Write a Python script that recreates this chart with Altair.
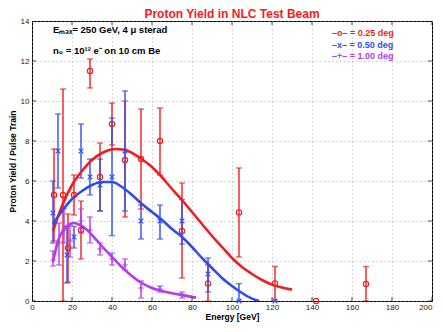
import altair as alt
import pandas as pd

# ---------------- data ----------------
x_ticks = [0, 20, 40, 60, 80, 100, 120, 140, 160, 180, 200]
y_ticks = [0, 2, 4, 6, 8, 10, 12, 14]

series_names = ["0.25 deg", "0.50 deg", "1.00 deg"]
series_colors = ["#f41c1c", "#2f4cf2", "#b33cf0"]

# 0.25 deg (red, circles)
red_E = [11, 15.5, 18, 21, 24.5, 29, 34, 40, 46.5, 54.5, 64, 75, 88, 103.5, 121.5, 142, 167]
red_y = [5.3, 5.3, 2.65, 5.3, 3.55, 11.5, 6.2, 8.85, 7.05, 7.1, 8.0, 3.5, 0.88, 4.43, 0.88, 0.0, 0.85]
red_lo = [3.0, 0.0, 0.95, 4.3, 2.1, 10.65, 4.5, 7.8, 4.2, 4.6, 6.3, 1.15, 0.0, 2.2, 0.0, 0.0, 0.0]
red_hi = [7.6, 10.6, 4.35, 6.3, 5.0, 12.1, 7.9, 9.9, 10.0, 9.6, 9.65, 5.9, 1.8, 6.65, 1.73, 0.0, 1.72]

# 0.50 deg (blue, x)
blue_E = [10.5, 13, 17.5, 21, 24.5, 29, 34, 40, 46.5, 54.5, 64, 75, 88, 103.5, 121.5]
blue_y = [4.4, 7.5, 2.3, 3.2, 7.5, 6.2, 5.8, 6.2, 7.5, 4.0, 4.0, 4.0, 1.35, 0.0, 0.0]
blue_lo = [2.9, 5.65, 0.9, 2.65, 6.15, 5.3, 4.5, 3.27, 4.5, 3.1, 3.1, 2.85, 0.45, 0.0, 0.0]
blue_hi = [6.0, 9.35, 3.73, 3.73, 8.85, 7.1, 7.1, 9.15, 10.5, 4.8, 4.8, 5.07, 2.15, 0.87, 0.0]

# 1.00 deg (purple, +)
pur_E = [10.5, 13.5, 16, 19, 24.5, 29, 34, 40, 46.5, 54.5, 64, 75]
pur_y = [2.05, 2.95, 3.55, 3.0, 4.0, 3.55, 2.6, 2.1, 1.8, 0.65, 0.6, 0.3]
pur_lo = [1.75, 1.8, 2.9, 2.2, 3.4, 2.9, 2.3, 1.8, 1.55, 0.15, 0.45, 0.15]
pur_hi = [2.5, 3.9, 4.6, 3.8, 4.6, 4.2, 2.9, 2.4, 2.1, 1.0, 0.75, 0.45]

# fitted curves
red_fit_E = [10.5, 15, 20, 25, 30, 35, 42, 48, 54, 60, 64, 70, 75, 80, 85, 90, 95, 100, 105, 110, 115, 120, 125, 130]
red_fit_y = [3.5, 4.75, 5.8, 6.5, 7.05, 7.4, 7.6, 7.5, 7.15, 6.7, 6.3, 5.6, 5.05, 4.45, 3.85, 3.25, 2.7, 2.15, 1.7, 1.35, 1.05, 0.82, 0.67, 0.57]
blue_fit_E = [10.5, 15, 20, 25, 30, 35, 40, 45, 50, 55, 60, 65, 70, 75, 80, 85, 90, 95, 100, 105, 110, 113.5]
blue_fit_y = [3.85, 4.5, 5.1, 5.5, 5.8, 5.95, 5.95, 5.7, 5.3, 4.85, 4.45, 4.05, 3.6, 3.2, 2.7, 2.15, 1.65, 1.15, 0.75, 0.4, 0.12, 0.0]
pur_fit_E = [10.5, 13, 16, 19, 21, 24, 27, 30, 34, 40, 47, 54, 60, 66, 74, 82]
pur_fit_y = [1.95, 3.0, 3.6, 3.85, 3.9, 3.8, 3.6, 3.3, 2.85, 2.2, 1.5, 0.95, 0.65, 0.47, 0.32, 0.17]

# ---------------- tables ----------------
def pts(name, E, y, lo, hi):
    return pd.DataFrame({"E": E, "y": y, "lo": lo, "hi": hi, "s": name})

pts_df = pd.concat([
    pts(series_names[0], red_E, red_y, red_lo, red_hi),
    pts(series_names[1], blue_E, blue_y, blue_lo, blue_hi),
    pts(series_names[2], pur_E, pur_y, pur_lo, pur_hi),
], ignore_index=True)
bars_df = pts_df[pts_df["hi"] > pts_df["lo"]]
caps_df = pd.concat([
    bars_df[["E", "s"]].assign(v=bars_df["lo"]),
    bars_df[["E", "s"]].assign(v=bars_df["hi"]),
], ignore_index=True)

fit_df = pd.concat([
    pd.DataFrame({"E": red_fit_E, "y": red_fit_y, "s": series_names[0]}),
    pd.DataFrame({"E": blue_fit_E, "y": blue_fit_y, "s": series_names[1]}),
    pd.DataFrame({"E": pur_fit_E, "y": pur_fit_y, "s": series_names[2]}),
], ignore_index=True)

FONT = "Liberation Sans"
xs = alt.Scale(domain=[0, 200], nice=False, zero=False)
ys = alt.Scale(domain=[0, 14], nice=False, zero=False)
cs = alt.Color("s:N", scale=alt.Scale(domain=series_names, range=series_colors), legend=None)

x_axis = alt.Axis(values=x_ticks, title="Energy [GeV]", grid=True, labelOverlap=False,
                  labelBound=False, labelFlush=False, tickCount=11,
                  labelAlign=alt.condition("datum.value >= 200", alt.value("right"), alt.value("center")))
y_axis = alt.Axis(values=y_ticks, title="Proton Yield / Pulse Train", grid=True, labelOverlap=False,
                  labelBound=False, labelFlush=False, tickCount=8)

base_x = alt.X("E:Q", scale=xs, axis=x_axis)

bars = alt.Chart(bars_df).mark_rule(clip=True, strokeWidth=1.4).encode(
    x=base_x, y=alt.Y("lo:Q", scale=ys, axis=y_axis), y2="hi:Q", color=cs)
caps = alt.Chart(caps_df).mark_tick(clip=True, orient="horizontal", size=6, thickness=1.4).encode(
    x=alt.X("E:Q", scale=xs), y=alt.Y("v:Q", scale=ys), color=cs)
fits = alt.Chart(fit_df).mark_line(interpolate="monotone", strokeWidth=2.6, clip=True).encode(
    x=alt.X("E:Q", scale=xs), y=alt.Y("y:Q", scale=ys), color=cs, detail="s:N")

def marker(name, shape, size, sw):
    return alt.Chart(pts_df[pts_df["s"] == name]).mark_point(
        shape=shape, size=size, strokeWidth=sw, filled=False, opacity=1, clip=False).encode(
        x=alt.X("E:Q", scale=xs), y=alt.Y("y:Q", scale=ys), color=cs)

m_red = marker(series_names[0], "circle", 28, 1.1)
m_blue = marker(series_names[1], "M-1,-1L1,1M-1,1L1,-1", 22, 1.2)
m_pur = marker(series_names[2], "M-1,0L1,0M0,-1L0,1", 30, 1.2)

# inward ticks on the box (MATLAB style)
xt = pd.DataFrame({"t": x_ticks})
yt = pd.DataFrame({"t": y_ticks})
tick_b = alt.Chart(xt).mark_tick(clip=True, orient="vertical", size=8, thickness=1, color="black").encode(
    x=alt.X("t:Q", scale=xs), y=alt.datum(0, scale=ys))
tick_t = alt.Chart(xt).mark_tick(clip=True, orient="vertical", size=8, thickness=1, color="black").encode(
    x=alt.X("t:Q", scale=xs), y=alt.datum(14, scale=ys))
tick_l = alt.Chart(yt).mark_tick(clip=True, orient="horizontal", size=8, thickness=1, color="black").encode(
    y=alt.Y("t:Q", scale=ys), x=alt.datum(0, scale=xs))
tick_r = alt.Chart(yt).mark_tick(clip=True, orient="horizontal", size=8, thickness=1, color="black").encode(
    y=alt.Y("t:Q", scale=ys), x=alt.datum(200, scale=xs))

def label(text, x, y, color="black", size=9.5, align="left"):
    return alt.Chart(pd.DataFrame({"t": [text]})).mark_text(
        font=FONT, fontWeight="bold", fontSize=size, color=color, align=align, baseline="alphabetic"
    ).encode(x=alt.value(x), y=alt.value(y), text="t:N")

title = label("Proton Yield in NLC Test Beam", 200, -3, color="#f41c1c", size=12, align="center")
ann1 = label("E\u2098\u2090\u2093= 250 GeV, 4 \u03bc sterad", 21, 12)
ann2 = label("n\u2080 = 10\u00b9\u00b2 e\u207b on 10 cm Be", 21, 33)
leg1 = label("\u2013o\u2013 = 0.25 deg", 300, 15, color=series_colors[0], size=9)
leg2 = label("\u2013x\u2013 = 0.50 deg", 300, 26.5, color=series_colors[1], size=9)
leg3 = label("\u2013+\u2013 = 1.00 deg", 300, 38, color=series_colors[2], size=9)

chart = alt.layer(
    bars, caps, fits, m_red, m_blue, m_pur,
    tick_b, tick_t, tick_l, tick_r,
    title, ann1, ann2, leg1, leg2, leg3,
).properties(
    width=400, height=280,
    autosize=alt.AutoSizeParams(type="none"),
    padding={"left": 24, "top": 13, "right": 3, "bottom": 23},
    background="white",
).configure_view(
    stroke="black", strokeWidth=1
).configure_axis(
    labelFont=FONT, labelFontSize=8, labelColor="#222", labelOverlap=False,
    titleFont=FONT, titleFontSize=8.5, titleFontWeight="bold", titleColor="black",
    ticks=False, domain=False, labelPadding=3,
    gridColor="#999", gridDash=[1, 3], gridWidth=0.8,
).configure_axisX(titlePadding=1, labelPadding=2).configure_axisY(titlePadding=3)

chart.save("out.html", embed_options={"renderer": "svg", "actions": False})
